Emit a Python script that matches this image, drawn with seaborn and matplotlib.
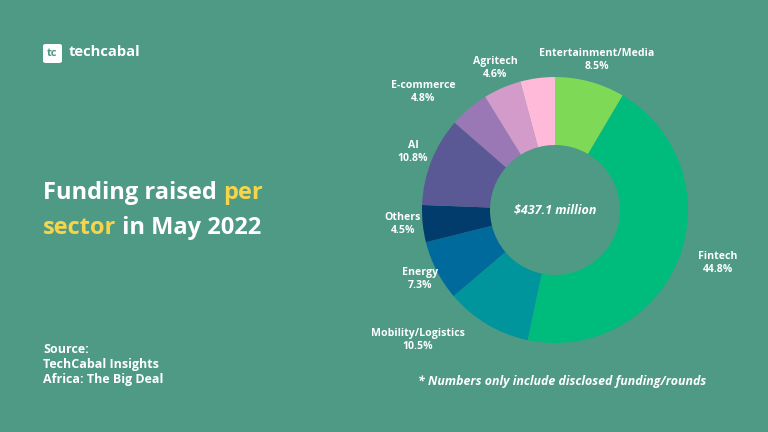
import matplotlib
matplotlib.use('Agg')
import matplotlib.pyplot as plt
import seaborn as sns
from matplotlib.patches import FancyBboxPatch

# data
sectors = ['Entertainment/Media', 'Fintech', 'Mobility/Logistics', 'Energy', 'Others',
           'AI', 'E-commerce', 'Agritech', '']
shares = [8.5, 44.8, 10.5, 7.3, 4.5, 10.8, 4.8, 4.6, 4.2]
colors = ['#7ED957', '#00BC7C', '#00959C', '#006A9C', '#013C6D',
          '#5B5896', '#9A78B5', '#D29BC9', '#FFBADA']
label_pos = [(597, 60), (718, 263), (418, 340), (420, 279), (403, 224),
             (413, 152), (423, 92), (495, 68), None]
total_txt = '$437.1 million'

bg = '#4E9A84'
sns.set_theme(style='white')
plt.rcParams['font.family'] = ['Open Sans', 'DejaVu Sans']

fig = plt.figure(figsize=(7.68, 4.32), dpi=100, facecolor=bg)

# donut, centre (555,210) px, outer radius 133 px
cx, cy, r = 555, 210, 133
ax = fig.add_axes([(cx - r) / 768, (432 - cy - r) / 432, 2 * r / 768, 2 * r / 432])
ax.set_facecolor(bg)
ax.pie(shares, colors=colors, startangle=90, counterclock=False,
       wedgeprops=dict(width=68 / 133, linewidth=0), radius=1)
ax.set_xlim(-1, 1)
ax.set_ylim(-1, 1)
ax.set_aspect('equal')
ax.axis('off')
ax.text(0, 0, total_txt, ha='center', va='center', color='white',
        fontsize=9, fontweight='bold', fontstyle='italic')

# slice labels
for name, val, pos in zip(sectors, shares, label_pos):
    if pos is None:
        continue
    fig.text(pos[0] / 768, 1 - pos[1] / 432, f'{name}\n{val}%', ha='center', va='center',
             color='white', fontsize=7.6, fontweight='bold', linespacing=1.3)

# logo
logo = FancyBboxPatch((43 / 768, 1 - 63 / 432), 19 / 768, 19 / 432,
                      boxstyle='round,pad=0,rounding_size=0.004',
                      transform=fig.transFigure, facecolor='white', edgecolor='none')
fig.patches.append(logo)
fig.text(52.5 / 768, 1 - 54 / 432, 'tc', ha='center', va='center', color=bg,
         fontsize=8, fontweight='bold')
fig.text(69 / 768, 1 - 52 / 432, 'techcabal', ha='left', va='center', color='white',
         fontsize=10.6, fontweight='bold')

# title
yellow = '#F7D54A'
fs = 17
t1 = fig.text(43 / 768, 1 - 193 / 432, 'Funding raised ', ha='left', va='center',
              color='white', fontsize=fs, fontweight='bold')
fig.canvas.draw()
bb = t1.get_window_extent()
fig.text(bb.x1 / 768, 1 - 193 / 432, 'per', ha='left', va='center',
         color=yellow, fontsize=fs, fontweight='bold')
t2 = fig.text(43 / 768, 1 - 228 / 432, 'sector', ha='left', va='center',
              color=yellow, fontsize=fs, fontweight='bold')
fig.canvas.draw()
bb2 = t2.get_window_extent()
fig.text(bb2.x1 / 768, 1 - 228 / 432, ' in May 2022', ha='left', va='center',
         color='white', fontsize=fs, fontweight='bold')

# source
fig.text(43 / 768, 1 - 343 / 432, 'Source:\nTechCabal Insights\nAfrica: The Big Deal',
         ha='left', va='top', color='white', fontsize=9, fontweight='bold',
         linespacing=1.2)

fig.text(562 / 768, 1 - 381 / 432, '* Numbers only include disclosed funding/rounds',
         ha='center', va='center', color='white', fontsize=8.9,
         fontweight='bold', fontstyle='italic')

fig.savefig('out.png', dpi=100, facecolor=bg)
